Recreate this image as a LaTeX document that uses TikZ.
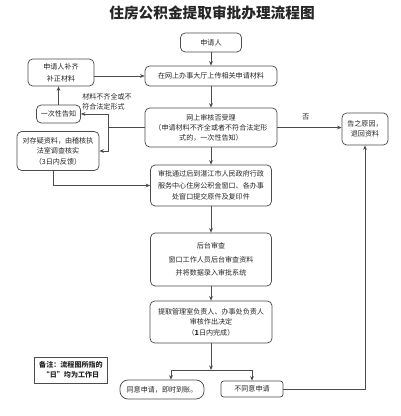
\documentclass[tikz,border=0pt]{standalone}
\usepackage{fontspec}
\setmainfont{Noto Sans CJK SC}
\usetikzlibrary{arrows.meta,calc}
\begin{document}
\begin{tikzpicture}[x=0.75pt,y=-0.75pt,
  line/.style={draw=black!70,line width=0.55pt},
  arr/.style={line,-{Stealth[length=3.4pt,width=2.8pt]}},
  box/.style={line,rounded corners=3.5pt,inner sep=0pt,align=center,text=black!85,font=\fontsize{5.3}{7.8}\selectfont},
  lbl/.style={inner sep=0pt,text=black!85,font=\fontsize{5.3}{7.8}\selectfont}]
\useasboundingbox[fill=white] (0,0) rectangle (400,416);
\node[inner sep=0pt,font=\fontsize{11}{13}\selectfont\bfseries,text=black!85] (title) at (212,13) {住房公积金提取审批办理流程图};
\node[box,minimum width=45.75pt,minimum height=14.25pt] (n1) at (211,42.5) {申请人};
\node[box,minimum width=99pt,minimum height=15pt] (n2) at (211,76) {在网上办事大厅上传相关申请材料};
\node[box,minimum width=99pt,minimum height=29.25pt,font=\fontsize{5.3}{7.5}\selectfont] (n3) at (211,127.5) {网上审核否受理\\（申请材料不齐全或者不符合法定形\\式的，一次性告知）};
\node[box,minimum width=90.75pt,minimum height=30.75pt,font=\fontsize{5.3}{8.6}\selectfont] (n4) at (211,185.5) {审批通过后到湛江市人民政府行政\\服务中心住房公积金窗口、各办事\\处窗口提交原件及复印件};
\node[box,minimum width=90.75pt,minimum height=39.75pt,font=\fontsize{5.3}{10.2}\selectfont] (n5) at (211,259.5) {后台审查\\窗口工作人员后台审查资料\\并将数据录入审批系统};
\node[box,minimum width=91.5pt,minimum height=31.5pt,font=\fontsize{5.3}{7.9}\selectfont] (n6) at (211,322) {提取管理室负责人、办事处负责人\\审核作出决定\\（\textbf{1}日内完成）};
\node[box,minimum width=49.5pt,minimum height=20.25pt,font=\fontsize{5.3}{9}\selectfont] (n7) at (61,72.5) {申请人补齐\\补正材料};
\node[box,minimum width=33pt,minimum height=13.5pt] (n8) at (58.5,114) {一次性告知};
\node[box,minimum width=61.5pt,minimum height=29.25pt] (n9) at (58,151) {对存疑资料，由稽核执\\法室调查核实\\（3日内反馈）};
\node[box,minimum width=34.5pt,minimum height=24pt,font=\fontsize{5.3}{7.5}\selectfont] (n10) at (365,129) {告之原因，\\退回资料};
\node[box,rounded corners=0pt,minimum width=54.75pt,minimum height=19.5pt,font=\fontsize{5.3}{7.5}\selectfont\bfseries] (n11) at (71,370) {备注：流程图所指的\\“日”均为工作日};
\node[box,rounded corners=6pt,minimum width=63pt,minimum height=14.25pt] (n12) at (162,389.5) {同意申请，即时到账。};
\node[box,rounded corners=2pt,minimum width=46.5pt,minimum height=12pt] (n13) at (252,389) {不同意申请};
\node[lbl,anchor=north west,align=left] (l1) at (82,93) {材料不齐全或不\\符合法定形式};
\node[lbl] (l2) at (306,117) {否};
\coordinate (j1) at (108,127.5);
\coordinate (j2) at (211,370);
\coordinate (b1) at (171,370);
\coordinate (b2) at (252,370);
\draw[arr] (n1) -- (n2);
\draw[arr] (n2) -- (n3);
\draw[arr] (n7.east |- n2) -- (n2.west);
\draw[arr] (n8.north) -- (n8.north |- n7.south);
\draw[line] (n3.west) -- (j1);
\draw[arr] (j1) |- (n8.east);
\draw[arr] (j1) |- (n9.east);
\draw[arr] (n3.east) -- (n3.east -| n10.west);
\draw[arr] ($(n9.south)+(-5,0)$) |- (n4.west);
\draw[arr] (n3) -- (n4);
\draw[arr] (n4) -- (n5);
\draw[arr] (n5) -- (n6);
\draw[arr] (n6) -- (j2);
\draw[line] (b1) -- (b2);
\draw[arr] (b1) -- (b1 |- n12.north);
\draw[arr] (b2) -- (b2 |- n13.north);
\draw[arr] (n13.east) -| (n10.south);
\end{tikzpicture}
\end{document}
